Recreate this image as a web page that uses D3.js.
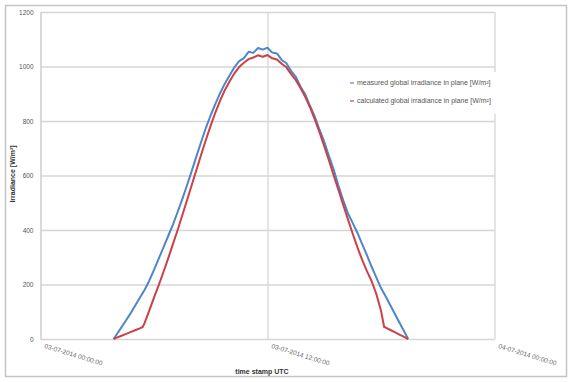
<!DOCTYPE html>
<html>
<head>
<meta charset="utf-8">
<script src="https://cdn.jsdelivr.net/npm/d3@7"></script>
<style>
  html, body { margin: 0; padding: 0; background: #fff; }
  svg { display: block; font-family: "Liberation Sans", Arial, sans-serif; }
</style>
</head>
<body>
<svg id="chart" width="568" height="382"></svg>
<script>
// Day of the measurement and the two irradiance series (time of day UTC, W/m²)
const day = "03-07-2014";
const measuredTimes = ["03:52","04:00","04:15","04:30","04:45","05:00","05:15","05:30","05:45",
  "06:00","06:15","06:30","06:45","07:00","07:15","07:30","07:45","08:00","08:15","08:30","08:45",
  "09:00","09:15","09:30","09:45","10:00","10:15","10:30","10:45","11:00","11:15","11:30","11:45",
  "12:00","12:15","12:30","12:45","13:00","13:15","13:30","13:45","14:00","14:15","14:30","14:45",
  "15:00","15:15","15:30","15:45","16:00","16:15","16:30","16:45","17:00","17:15","17:30","17:45",
  "18:00","18:15","18:30","18:45","19:00","19:15","19:26"];
const measuredValues = [0,14,40,66,93,122,151,180,214,
  254,295,336,378,420,466,514,565,618,672,725,776,
  822,864,903,938,968,997,1020,1031,1054,1050,1068,1062,
  1069,1051,1048,1024,1012,983,962,926,897,855,816,768,
  724,671,621,563,510,462,426,390,349,309,266,226,
  187,156,123,90,57,25,0];

const calculatedTimes = ["03:52","04:00","04:15","04:30","04:45","05:00","05:15","05:24","05:30","05:45",
  "06:00","06:15","06:30","06:45","07:00","07:15","07:30","07:45","08:00","08:15","08:30","08:45",
  "09:00","09:15","09:30","09:45","10:00","10:15","10:30","10:45","11:00","11:15","11:30","11:45",
  "12:00","12:15","12:30","12:45","13:00","13:15","13:30","13:45","14:00","14:15","14:30","14:45",
  "15:00","15:15","15:30","15:45","16:00","16:15","16:30","16:45","17:00","17:15","17:30","17:45",
  "18:00","18:10","18:15","18:30","18:45","19:00","19:15","19:26"];
const calculatedValues = [0,4,11,18,25,32,39,44,58,104,
  152,198,246,296,348,400,455,510,566,622,678,732,
  784,832,876,914,946,975,998,1014,1027,1033,1041,1036,
  1042,1030,1026,1010,997,972,950,920,888,850,806,758,
  708,655,600,547,493,440,387,337,291,250,213,166,
  104,44,42,33,24,15,7,0];

const yTicks = [0, 200, 400, 600, 800, 1000, 1200];
const xTicks = ["03-07-2014 00:00:00", "03-07-2014 12:00:00", "04-07-2014 00:00:00"];
const seriesNames = ["measured global irradiance in plane [W/m²]",
                     "calculated global irradiance in plane [W/m²]"];
const seriesColors = ["#4f86c9", "#cc4046"];
const yTitle = "Irradiance [W/m²]";
const xTitle = "time stamp UTC";

const parseStamp = d3.utcParse("%d-%m-%Y %H:%M:%S");
const parseTime = t => d3.utcParse("%d-%m-%Y %H:%M")(day + " " + t);
const fmtStamp = d3.utcFormat("%d-%m-%Y %H:%M:%S");

const svg = d3.select("#chart");

// outer chart frame
svg.append("rect")
  .attr("x", 5.5).attr("y", 5.5).attr("width", 561).attr("height", 371)
  .attr("fill", "#fff").attr("stroke", "#c4c4c4").attr("stroke-width", 1.5);

const plot = { left: 40.5, right: 494.5, top: 12, bottom: 339 };

const x = d3.scaleUtc()
  .domain([parseStamp(xTicks[0]), parseStamp(xTicks[2])])
  .range([plot.left, plot.right]);
const y = d3.scaleLinear().domain([0, 1200]).range([plot.bottom, plot.top]);

// horizontal gridlines with value labels
const yAxis = d3.axisLeft(y).tickValues(yTicks).tickFormat(d3.format("d"))
  .tickSize(-(plot.right - plot.left)).tickPadding(7);
const gy = svg.append("g").attr("transform", `translate(${plot.left},0)`).call(yAxis);
gy.select(".domain").attr("stroke", "#cfcfcf").attr("stroke-width", 1.2);
gy.selectAll(".tick line").attr("stroke", "#d6d6d6").attr("stroke-width", 1.6);
gy.selectAll(".tick text").attr("fill", "#555").attr("font-size", 6.5);

// vertical gridlines at every 12 hours
const xAxis = d3.axisBottom(x).tickValues(xTicks.map(parseStamp))
  .tickSize(-(plot.bottom - plot.top)).tickFormat(fmtStamp);
const gx = svg.append("g").attr("transform", `translate(0,${plot.bottom})`).call(xAxis);
gx.select(".domain").remove();
gx.selectAll(".tick line").attr("stroke", "#d6d6d6").attr("stroke-width", 1.3);
gx.selectAll(".tick text")
  .attr("fill", "#666").attr("font-size", 6.5)
  .attr("text-anchor", "start")
  .attr("dy", 0).attr("y", 0)
  .attr("transform", "translate(3,9) rotate(17)");

// series lines
const line = d3.line().x(d => x(d.t)).y(d => y(d.v));
const series = [
  measuredTimes.map((t, i) => ({ t: parseTime(t), v: measuredValues[i] })),
  calculatedTimes.map((t, i) => ({ t: parseTime(t), v: calculatedValues[i] }))
];
series.forEach((s, i) => {
  svg.append("path").datum(s)
    .attr("fill", "none").attr("stroke", seriesColors[i])
    .attr("stroke-width", 2).attr("stroke-linejoin", "round")
    .attr("d", line);
});

// legend
const lg = svg.append("g").attr("transform", "translate(345,72)");
lg.append("rect").attr("width", 185).attr("height", 42).attr("fill", "#fff");
seriesNames.forEach((name, i) => {
  const row = lg.append("g").attr("transform", `translate(0,${11 + i * 18})`);
  row.append("line").attr("x1", 5).attr("x2", 9).attr("y1", 0).attr("y2", 0)
    .attr("stroke", seriesColors[i]).attr("stroke-width", 1.2);
  row.append("text").attr("x", 12).attr("y", 2.3)
    .attr("font-size", 7).attr("fill", "#555").text(name);
});

// axis titles
svg.append("text")
  .attr("transform", "translate(15,174) rotate(-90)")
  .attr("text-anchor", "middle").attr("font-size", 7).attr("font-weight", "bold")
  .attr("fill", "#333").text(yTitle);
svg.append("text")
  .attr("x", 262).attr("y", 374).attr("text-anchor", "middle")
  .attr("font-size", 7).attr("font-weight", "bold").attr("fill", "#333").text(xTitle);
</script>
</body>
</html>
